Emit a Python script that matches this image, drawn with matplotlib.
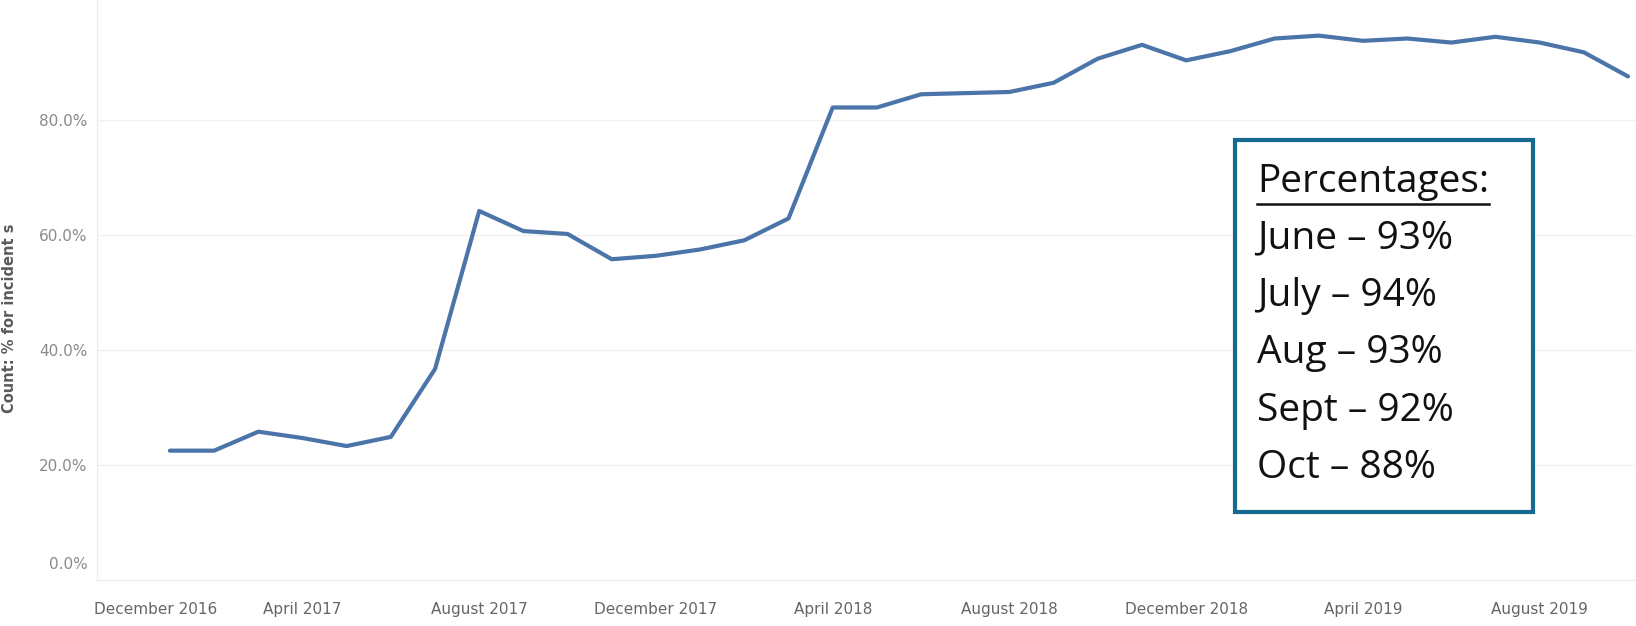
import matplotlib.pyplot as plt
import matplotlib.transforms as mtransforms
from matplotlib.patches import Rectangle
from matplotlib.lines import Line2D
import numpy as np

# monthly values, Jan 2017 .. Oct 2019
months = ['Jan 2017', 'Feb 2017', 'Mar 2017', 'Apr 2017', 'May 2017', 'Jun 2017',
          'Jul 2017', 'Aug 2017', 'Sep 2017', 'Oct 2017', 'Nov 2017', 'Dec 2017',
          'Jan 2018', 'Feb 2018', 'Mar 2018', 'Apr 2018', 'May 2018', 'Jun 2018',
          'Jul 2018', 'Aug 2018', 'Sep 2018', 'Oct 2018', 'Nov 2018', 'Dec 2018',
          'Jan 2019', 'Feb 2019', 'Mar 2019', 'Apr 2019', 'May 2019', 'Jun 2019',
          'Jul 2019', 'Aug 2019', 'Sep 2019', 'Oct 2019']
pct = [22.5, 22.5, 25.8, 24.7, 23.3, 24.9, 36.7, 64.2, 60.7, 60.2, 55.8, 56.4,
       57.5, 59.1, 62.9, 82.2, 82.2, 84.5, 84.7, 84.9, 86.5, 90.7, 93.1, 90.4,
       92.0, 94.2, 94.7, 93.8, 94.2, 93.5, 94.5, 93.5, 91.8, 87.6]

# month index: December 2016 = 0
tick_pos = [0, 4, 8, 12, 16, 20, 24, 28, 32]
tick_labels = ['December 2016', 'April 2017', 'August 2017', 'December 2017',
               'April 2018', 'August 2018', 'December 2018', 'April 2019', 'August 2019']
y_ticks = [0, 20, 40, 60, 80]

box_lines = ['June \u2013 93%', 'July \u2013 94%', 'Aug \u2013 93%',
             'Sept \u2013 92%', 'Oct \u2013 88%']

W, H = 1636, 626
fig = plt.figure(figsize=(W / 100, H / 100), dpi=100)
ax = fig.add_axes([97 / W, 1 - 580 / H, 1 - 97 / W, 580 / H])

x = np.arange(1, len(pct) + 1)
ax.plot(x, pct, color='#4b74a9', lw=3, solid_joinstyle='round', solid_capstyle='round')

ax.set_xlim(-0.65, 34.18)
ax.set_ylim(0, 100.9)

ax.set_yticks(y_ticks)
ax.set_yticklabels([f'{v:.1f}%' for v in y_ticks])
ax.set_xticks(tick_pos)
ax.set_xticklabels(tick_labels)
ax.tick_params(axis='y', length=0, pad=7, labelsize=11, labelcolor='#8a8a8a')
ax.tick_params(axis='x', length=0, pad=16, labelsize=11, labelcolor='#666666')

# tableau nudges the edge labels to stay inside
lab0 = ax.get_xticklabels()[0]
lab0.set_transform(lab0.get_transform() + mtransforms.ScaledTranslation(30 / 100, 0, fig.dpi_scale_trans))
ylab0 = ax.get_yticklabels()[0]
ylab0.set_transform(ylab0.get_transform() + mtransforms.ScaledTranslation(0, 17 / 100, fig.dpi_scale_trans))

ax.grid(axis='y', color='#f1f1f1', lw=1)
for s in ['top', 'right']:
    ax.spines[s].set_visible(False)
ax.spines['left'].set_color('#ececec')
ax.spines['bottom'].set_color('#ececec')

fig.text(10 / W, 1 - 318 / H, 'Count: % for incident s', rotation=90, ha='center', va='center',
         fontsize=10.5, fontweight='bold', color='#5a5a5a')

# annotation box
fig.patches.append(Rectangle((1235 / W, 1 - 512 / H), (1533 - 1235) / W, (512 - 140) / H,
                             transform=fig.transFigure, fill=True, facecolor='white',
                             edgecolor='#16698f', lw=3, zorder=5))
head = fig.text(1257 / W, 1 - 182 / H, 'Percentages:', ha='left', va='center', fontsize=28,
                family='Open Sans', color='#111111', zorder=6)
for i, t in enumerate(box_lines):
    fig.text(1257 / W, 1 - (238 + 57.5 * i) / H, t, ha='left', va='center', fontsize=28,
             family='Open Sans', color='#111111', zorder=6)

# underline the heading to its own width
fig.canvas.draw()
bb = head.get_window_extent().transformed(fig.transFigure.inverted())
fig.lines.append(Line2D([bb.x0, bb.x1], [1 - 204 / H, 1 - 204 / H], transform=fig.transFigure,
                        color='#111111', lw=1.8, zorder=6))

fig.savefig('out.png', dpi=100, facecolor='white')
